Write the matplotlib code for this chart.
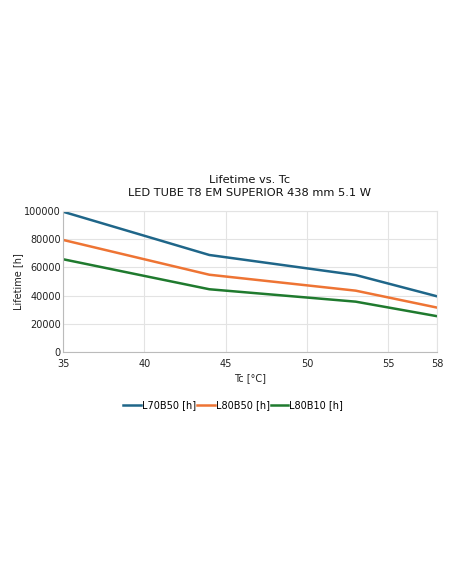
import matplotlib
matplotlib.use("Agg")
import matplotlib.pyplot as plt

tc = [35, 44, 53, 58]
l70b50 = [99500, 68800, 54600, 39500]
l80b50 = [79500, 54800, 43500, 31500]
l80b10 = [65800, 44500, 35700, 25400]
xticks = [35, 40, 45, 50, 55, 58]
yticks = [0, 20000, 40000, 60000, 80000, 100000]

fig = plt.figure(figsize=(4.52, 5.84), dpi=100)
ax = fig.add_axes([63 / 452, 1 - 352 / 584, 374 / 452, 141 / 584])

ax.plot(tc, l70b50, color="#1f6689", lw=1.8, label="L70B50 [h]")
ax.plot(tc, l80b50, color="#ee7434", lw=1.8, label="L80B50 [h]")
ax.plot(tc, l80b10, color="#1f7a2e", lw=1.8, label="L80B10 [h]")

ax.set_xlim(35, 58)
ax.set_ylim(0, 100000)
ax.set_xticks(xticks)
ax.set_yticks(yticks)
ax.grid(color="#e3e3e3", lw=0.8)
ax.set_axisbelow(True)
for s in ["top", "right"]:
    ax.spines[s].set_color("#e3e3e3")
for s in ["left", "bottom"]:
    ax.spines[s].set_color("#bbbbbb")
ax.tick_params(labelsize=7, length=0, color="#bbbbbb", labelcolor="#222222")
ax.tick_params(axis="x", pad=5)
ax.tick_params(axis="y", pad=1.5)

ax.set_xlabel("Tc [°C]", fontsize=7, color="#222222", labelpad=3)
ax.set_ylabel("Lifetime [h]", fontsize=7, color="#222222", labelpad=1)
ax.set_title("Lifetime vs. Tc\nLED TUBE T8 EM SUPERIOR 438 mm 5.1 W", fontsize=8.2,
             color="#111111", pad=10.5, linespacing=1.45)

ax.legend(loc="upper center", bbox_to_anchor=(0.455, -0.28), ncol=3, frameon=False,
          fontsize=7, handlelength=1.8, handletextpad=0.1, columnspacing=0.1)

fig.savefig("out.png", dpi=100)
